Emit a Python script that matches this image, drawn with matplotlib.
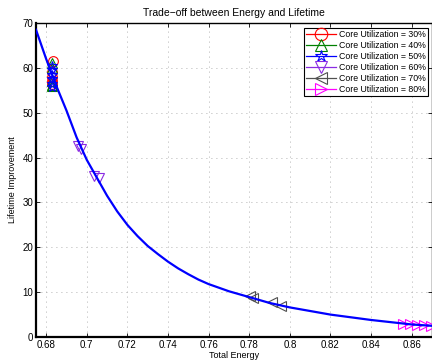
import matplotlib

matplotlib.use("Agg")
import matplotlib.pyplot as plt

plt.rcParams["font.family"] = ["Liberation Sans", "DejaVu Sans"]

# Trade-off curve (total energy vs lifetime improvement)
CURVE_E = [0.675, 0.680, 0.685, 0.690, 0.695, 0.700, 0.705, 0.710, 0.715, 0.720,
           0.725, 0.730, 0.735, 0.740, 0.745, 0.750, 0.755, 0.760, 0.770, 0.780,
           0.790, 0.800, 0.810, 0.820, 0.830, 0.840, 0.850, 0.860, 0.870]
CURVE_L = [68.5, 62.0, 56.0, 50.5, 44.5, 39.5, 35.5, 31.5, 28.0, 25.0,
           22.5, 20.3, 18.5, 16.8, 15.3, 14.0, 12.8, 11.8, 10.2, 8.9,
           7.6, 6.6, 5.8, 5.0, 4.4, 3.8, 3.3, 2.8, 2.5]

# Operating points per core utilization
U30_E = [0.6832, 0.6830, 0.6831, 0.6829, 0.6830]
U30_L = [61.5, 59.0, 58.0, 57.0, 56.5]
U40_E = [0.6828, 0.6829, 0.6827, 0.6828, 0.6829]
U40_L = [61.0, 60.0, 57.0, 56.2, 56.0]
U50_E = [0.6829, 0.6830, 0.6828, 0.6829, 0.6830, 0.6829]
U50_L = [60.5, 59.5, 58.5, 57.5, 56.5, 55.8]
U60_E = [0.6955, 0.6970, 0.7035, 0.7060]
U60_L = [42.5, 41.8, 36.0, 35.5]
U70_E = [0.7805, 0.7820, 0.7910, 0.7955]
U70_L = [9.1, 8.8, 7.7, 7.0]
U80_E = [0.8555, 0.8590, 0.8625, 0.8660, 0.8695]
U80_L = [2.9, 2.8, 2.7, 2.6, 2.5]

SERIES = [
    (U30_E, U30_L, "o", "red", "Core Utilization = 30%"),
    (U40_E, U40_L, "^", "green", "Core Utilization = 40%"),
    (U50_E, U50_L, "*", "blue", "Core Utilization = 50%"),
    (U60_E, U60_L, "v", "#8a2be2", "Core Utilization = 60%"),
    (U70_E, U70_L, "<", "#505050", "Core Utilization = 70%"),
    (U80_E, U80_L, ">", "magenta", "Core Utilization = 80%"),
]

X_TICKS = [0.68, 0.70, 0.72, 0.74, 0.76, 0.78, 0.80, 0.82, 0.84, 0.86]
X_LABELS = ["0.68", "0.7", "0.72", "0.74", "0.76", "0.78", "0.8", "0.82", "0.84", "0.86"]
Y_TICKS = [0, 10, 20, 30, 40, 50, 60, 70]


def main() -> None:
    fig = plt.figure(figsize=(4.32, 3.62), dpi=100)
    ax = fig.add_axes([0.0833, 0.069, 0.9167, 0.8675])

    handles = []
    for e, l, m, c, label in SERIES:
        ax.plot(e, l, linestyle="none", marker=m, markersize=7,
                markerfacecolor="none", markeredgecolor=c, markeredgewidth=0.8,
                zorder=3)
        h, = ax.plot([], [], color=c, lw=0.9, marker=m, markersize=9,
                     markerfacecolor="none", markeredgecolor=c,
                     markeredgewidth=0.8, label=label)
        handles.append(h)

    ax.plot(CURVE_E, CURVE_L, color="blue", lw=1.6, zorder=4)

    ax.set_xlim(0.675, 0.87)
    ax.set_ylim(0, 70)
    ax.set_xticks(X_TICKS)
    ax.set_xticklabels(X_LABELS)
    ax.set_yticks(Y_TICKS)
    ax.tick_params(direction="in", top=True, right=True, labelsize=7,
                   length=3, width=0.6, pad=2)
    ax.grid(True, linestyle=(0, (1, 5)), color="#999999", linewidth=0.6)
    for s in ax.spines.values():
        s.set_linewidth(1.0)
    ax.spines["left"].set_linewidth(1.6)
    ax.spines["bottom"].set_linewidth(1.6)

    ax.set_title("Trade\u2212off between Energy and Lifetime", fontsize=7.5, pad=5)
    ax.set_xlabel("Total Energy", fontsize=6.5, labelpad=1)
    ax.set_ylabel("Lifetime Improvement", fontsize=6.5, labelpad=4)

    leg = ax.legend(handles=handles, loc="upper right", fontsize=6.3,
                    frameon=True, fancybox=False, edgecolor="black",
                    framealpha=1.0, borderpad=0.25, labelspacing=0.22,
                    handlelength=3.5, handletextpad=0.3, borderaxespad=0.0,
                    bbox_to_anchor=(0.99, 0.984))
    leg.get_frame().set_linewidth(0.8)

    fig.savefig("out.png", dpi=100, facecolor="white")


if __name__ == "__main__":
    main()
